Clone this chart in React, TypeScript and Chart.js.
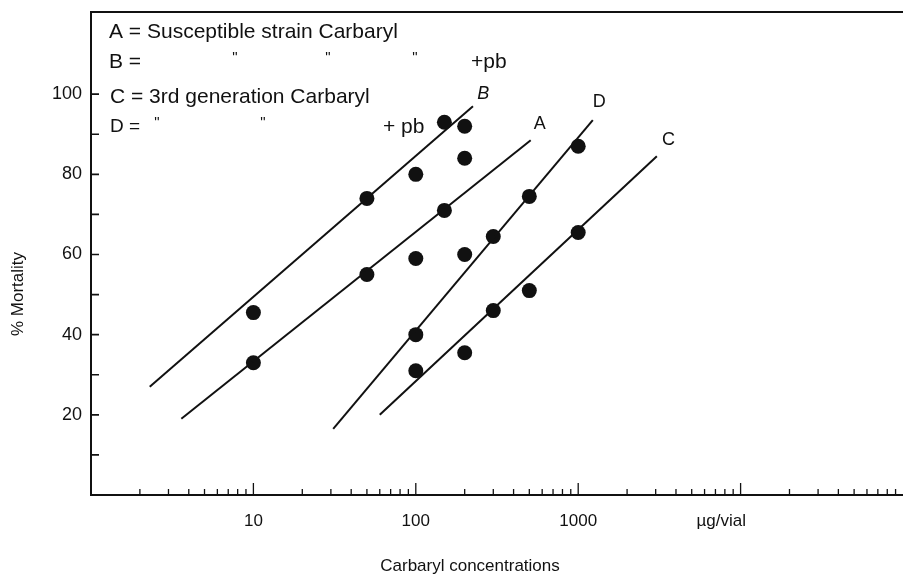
import { useEffect, useRef } from "react";
import { Chart, registerables } from "chart.js";

Chart.register(...registerables);

// Carbaryl concentration (µg/vial) for each strain
const concA = [10, 50, 100, 150, 200];
const concB = [10, 50, 100, 150, 200];
const concC = [100, 200, 300, 500, 1000];
const concD = [100, 200, 300, 500, 1000];

// % mortality observed
const mortalityA = [33, 55, 59, 71, 84];
const mortalityB = [45.5, 74, 80, 93, 92];
const mortalityC = [31, 35.5, 46, 51, 65.5];
const mortalityD = [40, 60, 64.5, 74.5, 87];

// Fitted (regression) lines: end points
const fitAx = [3.6, 510];
const fitAy = [19, 88.5];
const fitBx = [2.3, 225];
const fitBy = [27, 97];
const fitCx = [60, 3050];
const fitCy = [20, 84.5];
const fitDx = [31, 1230];
const fitDy = [16.5, 93.5];

// Line letters placed at the top of each fit line
const lineNames = ["A", "B", "C", "D"];
const lineNameX = [580, 260, 3600, 1350];
const lineNameY = [92.5, 100, 88.5, 98];

// Axis ticks
const xTickValues = [10, 100, 1000, 7600];
const xTickLabels = ["10", "100", "1000", "µg/vial"];
const yTickValues = [20, 40, 60, 80, 100];
const yTickMarks = [10, 20, 30, 40, 50, 60, 70, 80, 90, 100];
const xDecades = [1, 10, 100, 1000, 10000];
const xMultipliers = [2, 3, 4, 5, 6, 7, 8, 9];
const xMajorMarks = [10, 100, 1000, 10000];

const xTitle = "Carbaryl concentrations";
const yTitle = "% Mortality";

const FONT = "'Liberation Sans', Arial, Helvetica, sans-serif";
const INK = "#111111";

const pts = (xs: number[], ys: number[]) => xs.map((x, i) => ({ x, y: ys[i] }));

const inkPlugin = {
  id: "ink",
  afterDraw(chart: any) {
    const { ctx, chartArea, scales } = chart;
    const { left, right, top, bottom } = chartArea;
    const xs = scales.x;
    const ys = scales.y;
    ctx.save();
    ctx.strokeStyle = INK;
    ctx.fillStyle = INK;
    // frame
    ctx.lineWidth = 2;
    ctx.beginPath();
    ctx.moveTo(right, top);
    ctx.lineTo(left, top);
    ctx.lineTo(left, bottom);
    ctx.lineTo(right, bottom);
    ctx.stroke();
    // y tick marks (inward)
    ctx.lineWidth = 1.6;
    ctx.beginPath();
    yTickMarks.forEach((v) => {
      const py = ys.getPixelForValue(v);
      ctx.moveTo(left - 1, py);
      ctx.lineTo(left + 8, py);
    });
    ctx.stroke();
    // x tick marks (inward)
    ctx.lineWidth = 1.3;
    ctx.beginPath();
    xDecades.forEach((d) => {
      xMultipliers.forEach((m) => {
        const px = xs.getPixelForValue(d * m);
        ctx.moveTo(px, bottom);
        ctx.lineTo(px, bottom - 6);
      });
    });
    xMajorMarks.forEach((v) => {
      const px = xs.getPixelForValue(v);
      ctx.moveTo(px, bottom);
      ctx.lineTo(px, bottom - 12);
    });
    ctx.stroke();

    // axis titles
    ctx.font = `17px ${FONT}`;
    ctx.textAlign = "center";
    ctx.textBaseline = "middle";
    ctx.fillText(xTitle, 470, 566);
    ctx.save();
    ctx.translate(18, 294);
    ctx.rotate(-Math.PI / 2);
    ctx.fillText(yTitle, 0, 0);
    ctx.restore();

    // line letters
    lineNames.forEach((n, i) => {
      ctx.font = (n === "B" ? "italic " : "") + `18px ${FONT}`;
      ctx.fillText(n, xs.getPixelForValue(lineNameX[i]), ys.getPixelForValue(lineNameY[i]));
    });

    // key text
    ctx.textAlign = "left";
    ctx.font = `21px ${FONT}`;
    ctx.fillText("A = Susceptible strain Carbaryl", 109, 32);
    ctx.fillText("B =", 109, 62);
    ctx.fillText("+pb", 471, 62);
    ctx.fillText("C = 3rd generation Carbaryl", 110, 97);
    ctx.font = `19px ${FONT}`;
    ctx.fillText("D =", 110, 127);
    ctx.font = `21px ${FONT}`;
    ctx.fillText("+ pb", 383, 127);
    ctx.font = `15px ${FONT}`;
    ctx.textAlign = "center";
    [235, 328, 415].forEach((qx) => ctx.fillText("\"", qx, 58));
    [157, 263].forEach((qx) => ctx.fillText("\"", qx, 123));
    ctx.restore();
  },
};

export default function App() {
  const ref = useRef<HTMLCanvasElement | null>(null);
  useEffect(() => {
    if (!ref.current) return;
    const dot = {
      showLine: false,
      pointRadius: 7.5,
      pointBackgroundColor: INK,
      pointBorderColor: INK,
      pointBorderWidth: 0,
      pointHoverRadius: 7.5,
    };
    const fit = {
      showLine: true,
      pointRadius: 0,
      borderColor: INK,
      borderWidth: 2,
      fill: false,
    };
    const chart = new Chart(ref.current, {
      type: "scatter",
      data: {
        datasets: [
          { label: "A fit", data: pts(fitAx, fitAy), ...fit },
          { label: "B fit", data: pts(fitBx, fitBy), ...fit },
          { label: "C fit", data: pts(fitCx, fitCy), ...fit },
          { label: "D fit", data: pts(fitDx, fitDy), ...fit },
          { label: "A", data: pts(concA, mortalityA), ...dot },
          { label: "B", data: pts(concB, mortalityB), ...dot },
          { label: "C", data: pts(concC, mortalityC), ...dot },
          { label: "D", data: pts(concD, mortalityD), ...dot },
        ],
      },
      options: {
        responsive: false,
        animation: false,
        devicePixelRatio: 1,
        layout: { autoPadding: false, padding: { top: 12, left: 0, right: 0, bottom: 0 } },
        plugins: { legend: { display: false }, tooltip: { enabled: false } },
        scales: {
          x: {
            type: "logarithmic",
            min: 1,
            max: 100000,
            afterBuildTicks: (s: any) => {
              s.ticks = xTickValues.map((v) => ({ value: v }));
            },
            afterFit: (s: any) => {
              s.height = 83;
              s.paddingLeft = 0;
              s.paddingRight = 0;
              s.paddingTop = 0;
              s.paddingBottom = 0;
            },
            grid: { display: false, drawTicks: false },
            border: { display: false },
            ticks: {
              autoSkip: false,
              maxRotation: 0,
              padding: 16,
              color: INK,
              font: { family: FONT, size: 17 },
              callback: (_v: any, i: number) => xTickLabels[i],
            },
            title: { display: false },
          },
          y: {
            type: "linear",
            min: 0,
            max: 120.5,
            afterBuildTicks: (s: any) => {
              s.ticks = yTickValues.map((v) => ({ value: v }));
            },
            afterFit: (s: any) => {
              s.width = 91;
              s.paddingLeft = 0;
              s.paddingRight = 0;
              s.paddingTop = 0;
              s.paddingBottom = 0;
            },
            grid: { display: false, drawTicks: false },
            border: { display: false },
            ticks: {
              padding: 9,
              color: INK,
              font: { family: FONT, size: 18 },
              callback: (v: any) => String(v),
            },
            title: { display: false },
          },
        },
      },
      plugins: [inkPlugin],
    });
    return () => chart.destroy();
  }, []);
  return (
    <div style={{ position: "fixed", left: 0, top: 0, width: 903, height: 578, background: "#fff" }}>
      <canvas ref={ref} width={903} height={578} />
    </div>
  );
}
